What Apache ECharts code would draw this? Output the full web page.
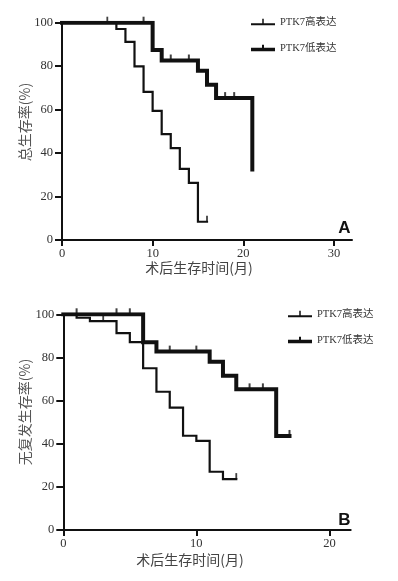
<!DOCTYPE html>
<html>
<head>
<meta charset="utf-8">
<script src="https://cdn.jsdelivr.net/npm/echarts@6/dist/echarts.min.js"></script>
<style>html,body{margin:0;padding:0;background:#fff}#c{width:398px;height:581px}</style>
</head>
<body>
<div id="c"></div>
<script>
// ---- Data ----
const seriesNames = ['PTK7高表达', 'PTK7低表达'];
const xTickValuesA = [0, 10, 20, 30];
const xTickValuesB = [0, 10, 20];

// Panel A: overall survival
const aHighTime = [0, 6, 7, 8, 9, 10, 11, 12, 13, 14, 15, 16];
const aHighSurv = [100, 97.1, 91.2, 79.9, 68.2, 59.4, 48.7, 42.3, 32.7, 26.3, 8.4, 8.4];
const aHighCensorTime = [5, 16];
const aHighCensorSurv = [100, 8.4];
const aLowTime = [0, 10, 11, 15, 16, 17, 21];
const aLowSurv = [100, 87.4, 82.6, 77.9, 71.4, 65.3, 32.4];
const aLowCensorTime = [9, 12, 14, 18, 19];
const aLowCensorSurv = [100, 82.6, 82.6, 65.3, 65.3];

// Panel B: recurrence-free survival
const bHighTime = [0, 1, 2, 4, 5, 6, 7, 8, 9, 10, 11, 12, 13];
const bHighSurv = [100, 98.4, 96.8, 91.3, 87.1, 75.0, 64.1, 56.7, 43.7, 41.3, 27.0, 23.6, 23.6];
const bHighCensorTime = [3, 13];
const bHighCensorSurv = [96.8, 23.6];
const bLowTime = [0, 6, 7, 11, 12, 13, 16, 17];
const bLowSurv = [100, 87.0, 82.7, 78.0, 71.5, 65.2, 43.6, 43.6];
const bLowCensorTime = [1, 4, 5, 8, 10, 14, 15, 17];
const bLowCensorSurv = [100, 100, 100, 82.7, 82.7, 65.2, 65.2, 43.6];

const zip = (xs, ys) => xs.map((x, i) => [x, ys[i]]);

const SERIF = "'Liberation Serif', 'Noto Sans CJK SC', serif";
const CJK = "'Noto Sans CJK SC', sans-serif";
const INK = '#111';

const thinIcon = 'path://M0,4.5L24,4.5L24,6.5L0,6.5Z M11.25,0L12.75,0L12.75,4.5L11.25,4.5Z';
const thickIcon = 'path://M0,3L24,3L24,6.5L0,6.5Z M11,0L13,0L13,3L11,3Z';

function xAxis(gridIndex, max, ticks) {
  return {
    type: 'value', gridIndex, min: 0, max,
    axisLine: { show: true, onZero: true, lineStyle: { color: INK, width: 2 } },
    axisTick: { show: true, length: 6, lineStyle: { color: INK, width: 2 }, customValues: ticks },
    axisLabel: { color: '#333', fontFamily: SERIF, fontSize: 12.5, margin: 7, customValues: ticks },
    splitLine: { show: false }
  };
}
function yAxis(gridIndex) {
  return {
    type: 'value', gridIndex, min: 0, max: 100, interval: 20,
    axisLine: { show: true, onZero: false, lineStyle: { color: INK, width: 2 } },
    axisTick: { show: true, length: 7, lineStyle: { color: INK, width: 2 } },
    axisLabel: { color: '#333', fontFamily: SERIF, fontSize: 12.5, margin: 9 },
    splitLine: { show: false }
  };
}
function stepSeries(name, idx, xs, ys, width) {
  return {
    name, type: 'line', step: 'end', xAxisIndex: idx, yAxisIndex: idx,
    data: zip(xs, ys), showSymbol: false, symbol: 'none',
    lineStyle: { color: INK, width, cap: 'square', join: 'miter' },
    itemStyle: { color: INK }, animation: false, z: 3
  };
}
function censorSeries(idx, xs, ys, w) {
  return {
    name: 'censor', type: 'scatter', xAxisIndex: idx, yAxisIndex: idx,
    data: zip(xs, ys), symbol: 'rect', symbolSize: [w, 6], symbolOffset: [0, -3],
    itemStyle: { color: INK }, animation: false, z: 4, silent: true
  };
}
function legend(left, top) {
  return {
    orient: 'vertical', left, top, itemWidth: 24, itemHeight: 6.5, itemGap: 14,
    selectedMode: false,
    textStyle: { fontFamily: SERIF, fontSize: 10.5, color: '#333', lineHeight: 12 },
    data: [{ name: seriesNames[0], icon: thinIcon }, { name: seriesNames[1], icon: thickIcon }]
  };
}

const chart = echarts.init(document.getElementById('c'), null, { renderer: 'canvas' });
chart.setOption({
  animation: false,
  backgroundColor: '#fff',
  grid: [
    { left: 62, top: 22.7, width: 290, height: 217.3, containLabel: false },
    { left: 63.3, top: 314.3, width: 287.4, height: 215.7, containLabel: false }
  ],
  xAxis: [xAxis(0, 32, xTickValuesA), xAxis(1, 21.6, xTickValuesB)],
  yAxis: [yAxis(0), yAxis(1)],
  legend: [legend(246, 11), legend(283, 303)],
  series: [
    stepSeries(seriesNames[0], 0, aHighTime, aHighSurv, 2.2),
    stepSeries(seriesNames[1], 0, aLowTime, aLowSurv, 4),
    censorSeries(0, aHighCensorTime, aHighCensorSurv, 1.8),
    censorSeries(0, aLowCensorTime, aLowCensorSurv, 2),
    stepSeries(seriesNames[0], 1, bHighTime, bHighSurv, 2.2),
    stepSeries(seriesNames[1], 1, bLowTime, bLowSurv, 4),
    censorSeries(1, bHighCensorTime, bHighCensorSurv, 1.8),
    censorSeries(1, bLowCensorTime, bLowCensorSurv, 2)
  ],
  graphic: [
    { type: 'text', x: 199, y: 268, style: { text: '术后生存时间(月)', font: "14px " + CJK, fill: '#444', align: 'center', verticalAlign: 'middle' } },
    { type: 'text', x: 190, y: 560, style: { text: '术后生存时间(月)', font: "14px " + CJK, fill: '#444', align: 'center', verticalAlign: 'middle' } },
    { type: 'text', x: 25, y: 122, rotation: Math.PI / 2, style: { text: '总生存率(%)', font: "14px " + CJK, fill: '#555', align: 'center', verticalAlign: 'middle' } },
    { type: 'text', x: 25, y: 412, rotation: Math.PI / 2, style: { text: '无复发生存率(%)', font: "14px " + CJK, fill: '#555', align: 'center', verticalAlign: 'middle' } },
    { type: 'text', x: 344.5, y: 228, style: { text: 'A', font: "bold 17px 'Liberation Sans', sans-serif", fill: INK, align: 'center', verticalAlign: 'middle' } },
    { type: 'text', x: 344.5, y: 520, style: { text: 'B', font: "bold 17px 'Liberation Sans', sans-serif", fill: INK, align: 'center', verticalAlign: 'middle' } }
  ]
});
</script>
</body>
</html>
